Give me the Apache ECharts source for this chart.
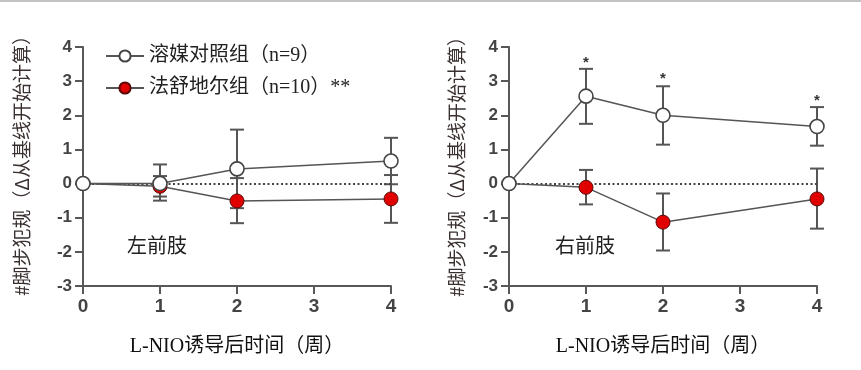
<!DOCTYPE html>
<html><head><meta charset="utf-8">
<script src="https://cdn.jsdelivr.net/npm/echarts@6/dist/echarts.min.js"></script>
<style>html,body{margin:0;padding:0;background:#fff}#c{width:861px;height:370px}</style>
</head><body><div id="c"></div>
<script>
const weeks = [0, 1, 2, 4];
const xTicks = [0, 1, 2, 3, 4];
const yTicks = [-3, -2, -1, 0, 1, 2, 3, 4];
const vehName = '溶媒对照组（n=9）';
const fasName = '法舒地尔组（n=10）**';
// Left forelimb
const vehLeftMean = [0, 0.0, 0.43, 0.66];
const vehLeftLow  = [0, -0.5, -0.72, -0.02];
const vehLeftHigh = [0, 0.56, 1.58, 1.34];
const fasLeftMean = [0, -0.08, -0.51, -0.45];
const fasLeftLow  = [0, -0.38, -1.16, -1.15];
const fasLeftHigh = [0, 0.22, 0.16, 0.25];
// Right forelimb
const vehRightMean = [0, 2.56, 2.0, 1.67];
const vehRightLow  = [0, 1.75, 1.14, 1.11];
const vehRightHigh = [0, 3.36, 2.85, 2.24];
const fasRightMean = [0, -0.11, -1.13, -0.45];
const fasRightLow  = [0, -0.61, -1.96, -1.32];
const fasRightHigh = [0, 0.40, -0.29, 0.44];
// significance stars (right forelimb)
const starWeeks = [1, 2, 4];
const starY = [3.66, 3.17, 2.53];
const starText = ['*', '*', '*'];
const panelLabels = ['左前肢', '右前肢'];
const xTitle = 'L-NIO诱导后时间（周）';
const yTitle = '#脚步犯规（Δ从基线开始计算）';

const serifCJK = '"Liberation Serif", "Noto Sans CJK SC", serif';
const axisCol = '#585858';

function pts(xs, ys) { return xs.map((x, i) => [x, ys[i]]); }
function errData(xs, lo, hi) { return xs.map((x, i) => [x, lo[i], hi[i]]); }

function errSeries(idx, xs, lo, hi) {
  return {
    type: 'custom', xAxisIndex: idx, yAxisIndex: idx, z: 1, silent: true,
    data: errData(xs, lo, hi),
    renderItem: function (params, api) {
      const x = api.value(0);
      const p1 = api.coord([x, api.value(1)]);
      const p2 = api.coord([x, api.value(2)]);
      const w = 7;
      const st = { stroke: '#555', lineWidth: 2 };
      return { type: 'group', children: [
        { type: 'line', shape: { x1: p1[0], y1: p1[1], x2: p2[0], y2: p2[1] }, style: st },
        { type: 'line', shape: { x1: p1[0] - w, y1: p1[1], x2: p1[0] + w, y2: p1[1] }, style: st },
        { type: 'line', shape: { x1: p2[0] - w, y1: p2[1], x2: p2[0] + w, y2: p2[1] }, style: st }
      ]};
    }
  };
}

function lineSeries(idx, name, ys, filled, withZero) {
  const s = {
    type: 'line', name: name, xAxisIndex: idx, yAxisIndex: idx, z: 3,
    data: pts(weeks, ys), symbol: 'circle', symbolSize: 14, showAllSymbol: true,
    lineStyle: { color: '#555', width: 1.5 },
    itemStyle: filled ? { color: '#e00000', borderColor: '#5a0a0a', borderWidth: 1 }
                      : { color: '#ffffff', borderColor: '#444', borderWidth: 1.6 },
    emphasis: { disabled: true }, animation: false
  };
  if (withZero) {
    s.markLine = {
      silent: true, symbol: 'none', label: { show: false }, z: 2,
      lineStyle: { color: '#444', type: [2, 2.5], width: 2.2 },
      data: [{ yAxis: 0 }]
    };
  }
  return s;
}

function xAx(idx) {
  return {
    type: 'value', gridIndex: idx, min: 0, max: 4, interval: 1,
    name: xTitle, nameLocation: 'middle', nameGap: 51,
    nameTextStyle: { fontFamily: serifCJK, fontSize: 20, color: '#111' },
    axisLine: { onZero: false, lineStyle: { color: axisCol, width: 2 } },
    axisTick: { length: 8, lineStyle: { color: axisCol, width: 2 } },
    axisLabel: { margin: 11, fontFamily: '"Liberation Sans", Arial', fontWeight: 'bold', fontSize: 19, color: '#444',
      formatter: v => xTicks.includes(v) ? String(v) : '' },
    splitLine: { show: false }
  };
}
function yAx(idx) {
  return {
    type: 'value', gridIndex: idx, min: -3, max: 4, interval: 1,
    axisLine: { onZero: false, lineStyle: { color: axisCol, width: 2 } },
    axisTick: { length: 8, lineStyle: { color: axisCol, width: 2 } },
    axisLabel: { margin: 11, fontFamily: '"Liberation Sans", Arial', fontWeight: 'bold', fontSize: 17, color: '#444',
      formatter: v => yTicks.includes(v) ? String(v) : '' },
    splitLine: { show: false }
  };
}

const chart = echarts.init(document.getElementById('c'), null, { renderer: 'canvas' });
chart.setOption({
  animation: false,
  backgroundColor: '#fff',
  grid: [
    { left: 83, right: 470, top: 47, bottom: 84 },
    { left: 509, right: 44, top: 47, bottom: 84 }
  ],
  xAxis: [xAx(0), xAx(1)],
  yAxis: [yAx(0), yAx(1)],
  legend: {
    orient: 'vertical', left: 100, top: 41, itemWidth: 38, itemHeight: 14, itemGap: 12,
    textStyle: { fontFamily: serifCJK, fontSize: 20, color: '#222' },
    data: [vehName, fasName], selectedMode: false
  },
  graphic: [
    { type: 'rect', shape: { x: 0, y: 0, width: 861, height: 2 }, style: { fill: '#c4c4c4' } },
    { type: 'text', x: 22, y: 161, rotation: Math.PI / 2,
      style: { text: yTitle, fontFamily: '"Noto Sans CJK SC", sans-serif', fontSize: 19, fill: '#3a3030', align: 'center', verticalAlign: 'middle' } },
    { type: 'text', x: 457, y: 162, rotation: Math.PI / 2,
      style: { text: yTitle, fontFamily: '"Noto Sans CJK SC", sans-serif', fontSize: 19, fill: '#3a3030', align: 'center', verticalAlign: 'middle' } },
    { type: 'text', x: 127, y: 248,
      style: { text: panelLabels[0], fontFamily: serifCJK, fontSize: 20, fill: '#222', align: 'left', verticalAlign: 'middle' } },
    { type: 'text', x: 555, y: 248,
      style: { text: panelLabels[1], fontFamily: serifCJK, fontSize: 20, fill: '#222', align: 'left', verticalAlign: 'middle' } }
  ],
  series: [
    errSeries(0, weeks, vehLeftLow, vehLeftHigh),
    errSeries(0, weeks, fasLeftLow, fasLeftHigh),
    lineSeries(0, fasName, fasLeftMean, true, true),
    lineSeries(0, vehName, vehLeftMean, false, false),
    errSeries(1, weeks, vehRightLow, vehRightHigh),
    errSeries(1, weeks, fasRightLow, fasRightHigh),
    lineSeries(1, fasName, fasRightMean, true, true),
    lineSeries(1, vehName, vehRightMean, false, false),
    {
      type: 'custom', xAxisIndex: 1, yAxisIndex: 1, z: 4, silent: true,
      data: starWeeks.map((x, i) => [x, starY[i]]),
      renderItem: function (params, api) {
        const p = api.coord([api.value(0), api.value(1)]);
        return { type: 'text', x: p[0], y: p[1] + 4,
          style: { text: starText[params.dataIndex], fontFamily: '"Liberation Sans", Arial', fontWeight: 'bold', fontSize: 15, fill: '#333', align: 'center', verticalAlign: 'middle' } };
      }
    }
  ]
});
</script></body></html>
